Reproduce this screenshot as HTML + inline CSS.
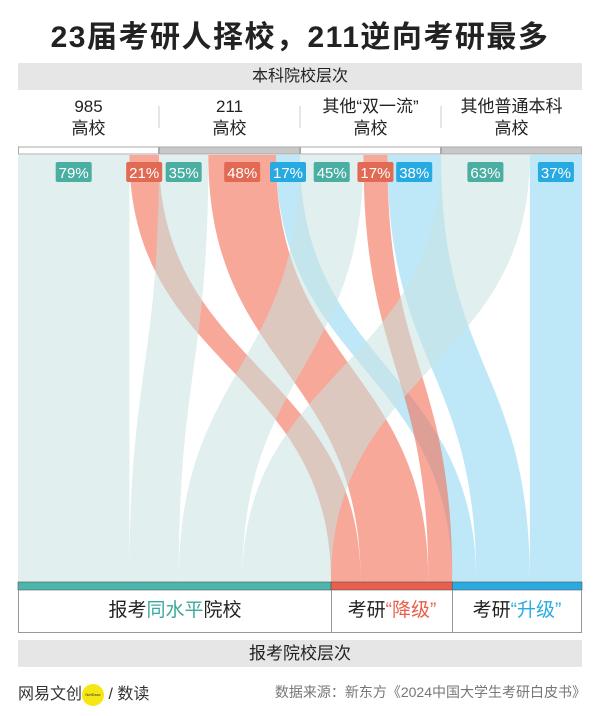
<!DOCTYPE html>
<html><head><meta charset="utf-8">
<style>
body{margin:0;width:600px;height:716px;background:#fff;font-family:"Liberation Sans","Noto Sans CJK SC",sans-serif;position:relative;overflow:hidden;color:#222}
.abs{position:absolute}
</style></head>
<body>
<div class="abs" style="left:0;width:600px;top:12px;text-align:center;font-size:30px;font-weight:bold;letter-spacing:1.5px">23届考研人择校，211逆向考研最多</div>
<div class="abs" style="left:18px;width:564px;top:63px;height:27px;background:#e6e6e6;text-align:center;line-height:27px;font-size:16px">本科院校层次</div>
<svg class="abs" style="left:0;top:0" width="600" height="716" id="chart"></svg>
<div class="abs" style="left:18px;top:590px;width:562px;height:42px;border:1px solid #999;border-top:none"></div>
<div class="abs" style="left:18px;width:314px;top:590px;height:42px;line-height:42px;text-align:center;font-size:19px">报考<span style="color:#3aa89c">同水平</span>院校</div>
<div class="abs" style="left:331px;top:590px;width:1px;height:42px;background:#999"></div>
<div class="abs" style="left:332px;width:120px;top:590px;height:42px;line-height:42px;text-align:center;font-size:19px">考研<span style="color:#e8604c">“降级”</span></div>
<div class="abs" style="left:452px;top:590px;width:1px;height:42px;background:#999"></div>
<div class="abs" style="left:452px;width:130px;top:590px;height:42px;line-height:42px;text-align:center;font-size:19px">考研<span style="color:#29abe2">“升级”</span></div>
<div class="abs" style="left:18px;width:564px;top:640px;height:27px;background:#e6e6e6;text-align:center;line-height:27px;font-size:17px">报考院校层次</div>
<div class="abs" style="left:18px;top:680px;font-size:16px;color:#333">网易文创<span style="display:inline-block;width:22px;height:22px;border-radius:50%;background:#f5e614;vertical-align:middle;font-size:4px;line-height:22px;text-align:center">NetEase</span> / 数读</div>
<div class="abs" style="right:14px;top:682px;font-size:14px;color:#777">数据来源：新东方《2024中国大学生考研白皮书》</div>
<script>
const sources=["985\n高校","211\n高校","其他“双一流”\n高校","其他普通本科\n高校"];
const sameShare=[79,35,45,63];
const downShare=[21,48,17,0];
const upShare=[0,17,38,37];
const NS="http://www.w3.org/2000/svg";
const svg=document.getElementById('chart');
const L=18,W=564,colW=W/4,yTop=155,yBot=582;
const cats=["same","down","up"];
const fills={same:"rgba(200,226,224,0.55)",down:"rgba(242,110,85,0.6)",up:"rgba(100,200,238,0.42)"};
const boxC={same:"#4aaea3",down:"#e26a55",up:"#27a9e1"};
const shares={same:sameShare,down:downShare,up:upShare};
function mk(t,a){const e=document.createElementNS(NS,t);for(const k in a)e.setAttribute(k,a[k]);svg.appendChild(e);return e;}
const tot={};cats.forEach(c=>tot[c]=shares[c].reduce((a,b)=>a+b,0));
const all=tot.same+tot.down+tot.up;
const scale=W/all;
let dx={},cur=L;cats.forEach(c=>{dx[c]=cur;cur+=tot[c]*scale;});
const flows=[];
sources.forEach((s,i)=>{let x=L+i*colW;const sum=sameShare[i]+downShare[i]+upShare[i];
 cats.forEach(c=>{const v=shares[c][i];if(!v)return;const w=v/sum*colW;flows.push({i,c,v,x0:x,x1:x+w});x+=w;});});
cats.forEach(c=>{let x=dx[c];flows.filter(f=>f.c===c).forEach(f=>{const w=f.v*scale;f.b0=x;f.b1=x+w;x+=w;});});
const ym=(yTop+yBot)/2;
flows.forEach(f=>{
 const p=mk('path',{d:`M${f.x0},${yTop} L${f.x1},${yTop} C${f.x1},${ym} ${f.b1},${ym} ${f.b1},${yBot} L${f.b0},${yBot} C${f.b0},${ym} ${f.x0},${ym} ${f.x0},${yTop} Z`,fill:fills[f.c]});
 
 
});
sources.forEach((s,i)=>{const x=L+i*colW;
 const r=mk('rect',{x:x+0.5,y:147,width:colW-1,height:7,fill:i%2?"#c8c8c8":"#fff",stroke:"#aaa","stroke-width":1});
 
 
 const lines=s.split("\n");
 lines.forEach((ln,k)=>{const t=mk('text',{x:x+colW/2,y:112+k*22,"text-anchor":"middle","font-size":17,fill:"#222"});t.textContent=ln;
  
  });
 if(i>0){const l=mk('line',{x1:x,x2:x,y1:106,y2:128,stroke:"#ccc"});}
});
flows.forEach(f=>{const cx=(f.x0+f.x1)/2;
 const g=mk('rect',{x:cx-18,y:162,width:36,height:20,rx:2,fill:boxC[f.c]});
 
 
 const t=mk('text',{x:cx,y:178,"text-anchor":"middle","font-size":15,fill:"#fff"});t.textContent=f.v+"%";
 
 
});
const barC={same:"#4db6ac",down:"#e8604c",up:"#29abe2"};
cats.forEach(c=>{const r=mk('rect',{x:dx[c],y:582,width:tot[c]*scale,height:8,fill:barC[c],stroke:"#555","stroke-width":0.6});
 
 });
</script>
</body></html>
